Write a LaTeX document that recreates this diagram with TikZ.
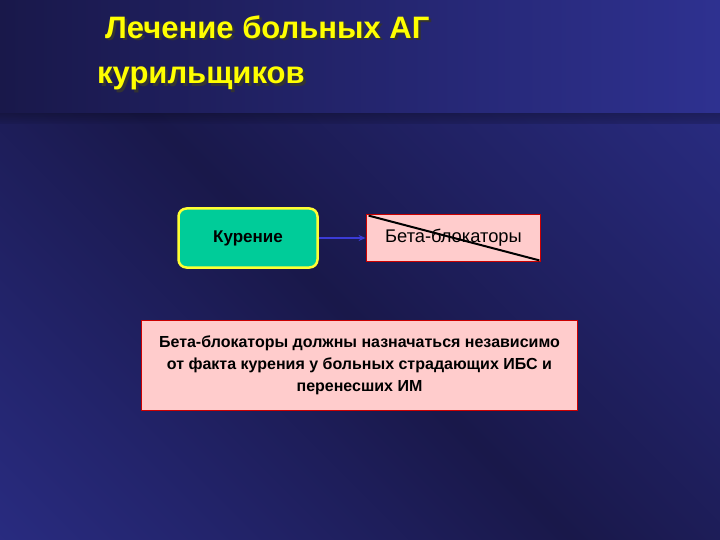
\documentclass[tikz,border=0pt]{standalone}
\usepackage{fontspec}
\setmainfont{Liberation Sans}
\usetikzlibrary{arrows.meta}
\definecolor{bgdark}{HTML}{19184A}
\definecolor{bglight}{HTML}{2F3396}
\definecolor{bgtop}{HTML}{2E3190}
\definecolor{titleyellow}{HTML}{FFFF00}
\definecolor{smokegreen}{HTML}{00CC99}
\definecolor{boxyellow}{HTML}{FFFF33}
\definecolor{pinkfill}{HTML}{FFCCCC}
\definecolor{redline}{HTML}{CC0000}
\definecolor{arrowblue}{HTML}{3B3BD6}
\pgfdeclarehorizontalshading{diagbg}{100bp}{color(0bp)=(bglight); color(50bp)=(bgdark); color(100bp)=(bglight)}
\tikzset{
  titletext/.style={font=\fontsize{31}{36}\selectfont\bfseries, text=titleyellow, anchor=base west, inner sep=0pt},
  titleshadow/.style={font=\fontsize{31}{36}\selectfont\bfseries, text=black!80, anchor=base west, inner sep=0pt},
  greenbox/.style={draw=boxyellow, line width=2.5pt, fill=smokegreen, rounded corners=8pt, minimum width=139pt, minimum height=59pt, font=\fontsize{17}{20}\selectfont\bfseries, text=black},
  pinkbox/.style={draw=redline, line width=1.8pt, fill=pinkfill, font=\fontsize{18.3}{21}\selectfont, text=black},
  notebox/.style={draw=redline, line width=1.8pt, fill=pinkfill, font=\fontsize{16}{22}\selectfont\bfseries, text=black, align=center},
  linkarrow/.style={draw=arrowblue, line width=1.6pt, -{Stealth[length=7pt,width=6pt]}}
}
\begin{document}
\begin{tikzpicture}[x=1pt,y=-1pt]
\useasboundingbox (0,0) rectangle (720,540);
% background
\shade[left color=bgdark, right color=bgtop] (0,0) rectangle (720,114);
\shade[shading=diagbg, shading angle=45] (0,114) rectangle (720,540);
\shade[top color=black!60!bgdark, bottom color=bgdark, opacity=0.35] (0,114) rectangle (720,124);
% title
\node[titleshadow] at (107.5,41) {Лечение больных АГ};
\node[titletext] (t1) at (105,38.5) {Лечение больных АГ};
\node[titleshadow] at (99.5,86.5) {курильщиков};
\node[titletext] (t2) at (97,84) {курильщиков};
% boxes
\node[greenbox] (smoke) at (248,238) {Курение};
\node[pinkbox, minimum width=174pt, minimum height=47pt] (beta) at (453.5,238) {Бета-блокаторы};
\draw[black, line width=2pt] ([shift={(3,2)}]beta.north west) -- ([shift={(-2,-2)}]beta.south east);
\draw[linkarrow] (smoke.east) -- (beta.west);
\node[notebox, minimum width=436pt, minimum height=90pt] (note) at (359.5,365.5) {Бета-блокаторы должны назначаться независимо\\от факта курения у больных страдающих ИБС и\\перенесших ИМ};
\end{tikzpicture}
\end{document}
